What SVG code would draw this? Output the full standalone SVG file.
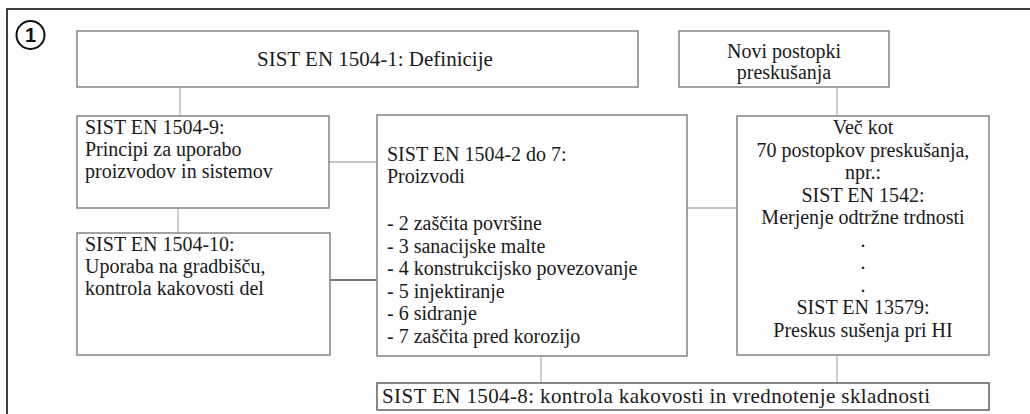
<svg xmlns="http://www.w3.org/2000/svg" width="1030" height="414" viewBox="0 0 1030 414">
<style>
.box{fill:#fff;stroke:#8c8c8c;stroke-width:1.6}
.t{font-family:"Liberation Serif","Times New Roman",serif;font-size:20px;fill:#1a1a1a}
.c{text-anchor:middle}
.con{stroke:#b4b4b4;stroke-width:1.3;fill:none}
.dark{stroke:#4a4a4a;stroke-width:1.3}
</style>
<rect x="0" y="0" width="1030" height="414" fill="#fff"/>
<rect x="7" y="9" width="1040" height="430" fill="none" stroke="#111" stroke-width="1.6"/>
<g id="badge">
<circle cx="30.5" cy="35" r="14" fill="#fff" stroke="#111" stroke-width="2"/>
<text x="30.5" y="42" text-anchor="middle" style="font-family:'Liberation Sans',Arial,sans-serif;font-size:20px;font-weight:bold" fill="#111">1</text>
</g>
<g id="connectors">
<line class="con" x1="180" y1="87" x2="180" y2="116"/>
<line class="con" x1="178" y1="208" x2="178" y2="233"/>
<line class="con" x1="329" y1="162" x2="377" y2="162"/>
<line class="con dark" x1="330" y1="280" x2="377" y2="280"/>
<line class="con" x1="837" y1="87" x2="837" y2="116"/>
<line class="con" x1="687" y1="208" x2="737" y2="208"/>
<line class="con" x1="541" y1="356" x2="541" y2="383"/>
<line class="con" x1="837" y1="355" x2="837" y2="383"/>
</g>
<g id="n-definicije">
<rect class="box" x="77" y="31" width="561" height="56"/>
<text class="t" x="257" y="66" style="font-size:21px">SIST EN 1504-1: Definicije</text>
</g>
<g id="n-novi">
<rect class="box" x="679" y="31" width="210" height="56"/>
<text class="t c" x="784" y="58">Novi postopki</text>
<text class="t c" x="784" y="79">preskušanja</text>
</g>
<g id="n-1504-9">
<rect class="box" x="77" y="116" width="252" height="92"/>
<text class="t" x="85" y="134">SIST EN 1504-9:</text>
<text class="t" x="85" y="156">Principi za uporabo</text>
<text class="t" x="85" y="178">proizvodov in sistemov</text>
</g>
<g id="n-1504-10">
<rect class="box" x="77" y="233" width="253" height="122"/>
<text class="t" x="85" y="251">SIST EN 1504-10:</text>
<text class="t" x="85" y="273">Uporaba na gradbišču,</text>
<text class="t" x="85" y="295">kontrola kakovosti del</text>
</g>
<g id="n-1504-2-7">
<rect class="box" x="377" y="115" width="310" height="241"/>
<text class="t" x="387" y="161">SIST EN 1504-2 do 7:</text>
<text class="t" x="387" y="183">Proizvodi</text>
<text class="t" x="387" y="230">- 2 zaščita površine</text>
<text class="t" x="387" y="252.5">- 3 sanacijske malte</text>
<text class="t" x="387" y="275">- 4 konstrukcijsko povezovanje</text>
<text class="t" x="387" y="297.5">- 5 injektiranje</text>
<text class="t" x="387" y="320">- 6 sidranje</text>
<text class="t" x="387" y="342.5">- 7 zaščita pred korozijo</text>
</g>
<g id="n-postopki">
<rect class="box" x="737" y="116" width="252" height="239"/>
<text class="t c" x="863" y="134">Več kot</text>
<text class="t c" x="863" y="156.5">70 postopkov preskušanja,</text>
<text class="t c" x="863" y="179">npr.:</text>
<text class="t c" x="863" y="201.5">SIST EN 1542:</text>
<text class="t c" x="863" y="224">Merjenje odtržne trdnosti</text>
<text class="t c" x="863" y="246.5">.</text>
<text class="t c" x="863" y="269">.</text>
<text class="t c" x="863" y="291.5">.</text>
<text class="t c" x="863" y="314">SIST EN 13579:</text>
<text class="t c" x="863" y="336.5">Preskus sušenja pri HI</text>
</g>
<g id="n-1504-8">
<rect class="box" x="377" y="383" width="612" height="27" style="stroke:#6a6a6a"/>
<text class="t" x="382" y="403" style="font-size:21px" textLength="548" lengthAdjust="spacing">SIST EN 1504-8: kontrola kakovosti in vrednotenje skladnosti</text>
</g>
</svg>
